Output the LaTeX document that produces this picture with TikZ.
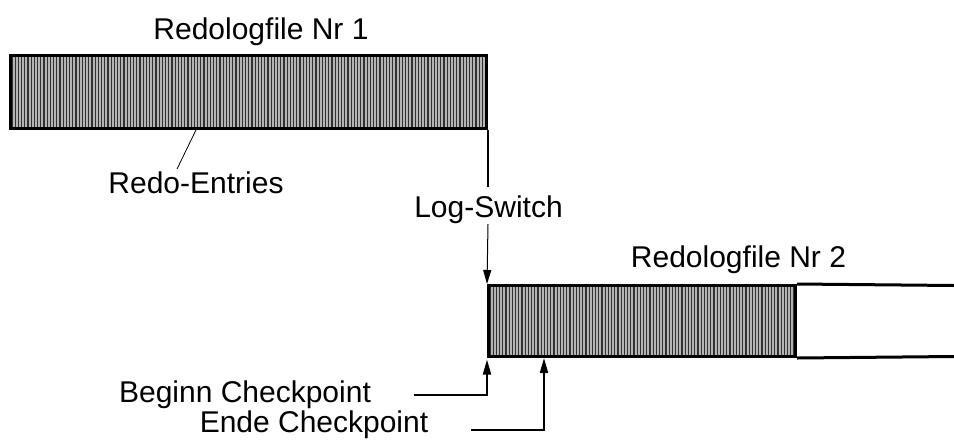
\documentclass[tikz,border=0pt]{standalone}
\usepackage{fontspec}
\setmainfont{Liberation Sans}
\usetikzlibrary{arrows.meta}

\definecolor{hatchlight}{RGB}{180,180,180}
\definecolor{hatchdark}{RGB}{50,50,50}

\begin{document}
\begin{tikzpicture}[x=1pt,y=-1pt,
  lbl/.style={font=\fontsize{30}{36}\selectfont, inner sep=0pt, anchor=base},
  hatched/.style={draw, line width=3pt, inner sep=0pt, fill=hatchlight,
    path picture={
      \foreach \k in {1.5,4.7,...,480}
        \draw[hatchdark, line width=1.1pt]
          ([xshift=\k pt]path picture bounding box.south west) --
          ([xshift=\k pt]path picture bounding box.north west);
    }},
  barline/.style={line width=3pt},
  thinlead/.style={line width=0.8pt},
  lsarrow/.style={line width=1pt, -{Triangle[width=8pt,length=14pt]}},
  cparrow/.style={line width=2pt, -{Triangle[width=8pt,length=15pt]}}
]
\useasboundingbox (0,0) rectangle (954,440);

% first redo log file, completely written
\node[hatched, minimum width=476pt, minimum height=73pt] (bar1) at (248.5,92) {};
\node[lbl] (t1) at (261,39) {Redologfile Nr 1};

% leader to the redo entries
\coordinate (reTop) at (196,130);
\coordinate (reBot) at (177,169);
\draw[thinlead] (reTop) -- (reBot);
\node[lbl] (re) at (196,193) {Redo-Entries};

% second redo log file, partly written
\node[hatched, minimum width=307pt, minimum height=71pt] (bar2) at (642,321) {};
\coordinate (b2top) at (954,285.5);
\coordinate (b2bot) at (954,356.5);
\draw[barline] (bar2.north east) -- (b2top);
\draw[barline] (bar2.south east) -- (b2bot);
\node[lbl] (t2) at (738.5,267) {Redologfile Nr 2};

% log switch from file 1 to file 2
\coordinate (lsTop) at (488,187);
\coordinate (lsBot) at (488,224);
\draw[line width=2pt] (bar1.south east) -- (lsTop);
\node[lbl] (ls) at (488.5,217) {Log-Switch};
\draw[lsarrow] (lsBot) -- (bar2.north west);

% checkpoints
\coordinate (bcStart) at (414,395);
\coordinate (ecStart) at (471,430);
\coordinate (ecTip) at (544,358);
\draw[cparrow] (bcStart) -| ([yshift=-1.5pt]bar2.south west);
\draw[cparrow] (ecStart) -| (ecTip);
\node[lbl] (bc) at (245,402) {Beginn Checkpoint};
\node[lbl] (ec) at (314,432) {Ende Checkpoint};
\end{tikzpicture}
\end{document}
